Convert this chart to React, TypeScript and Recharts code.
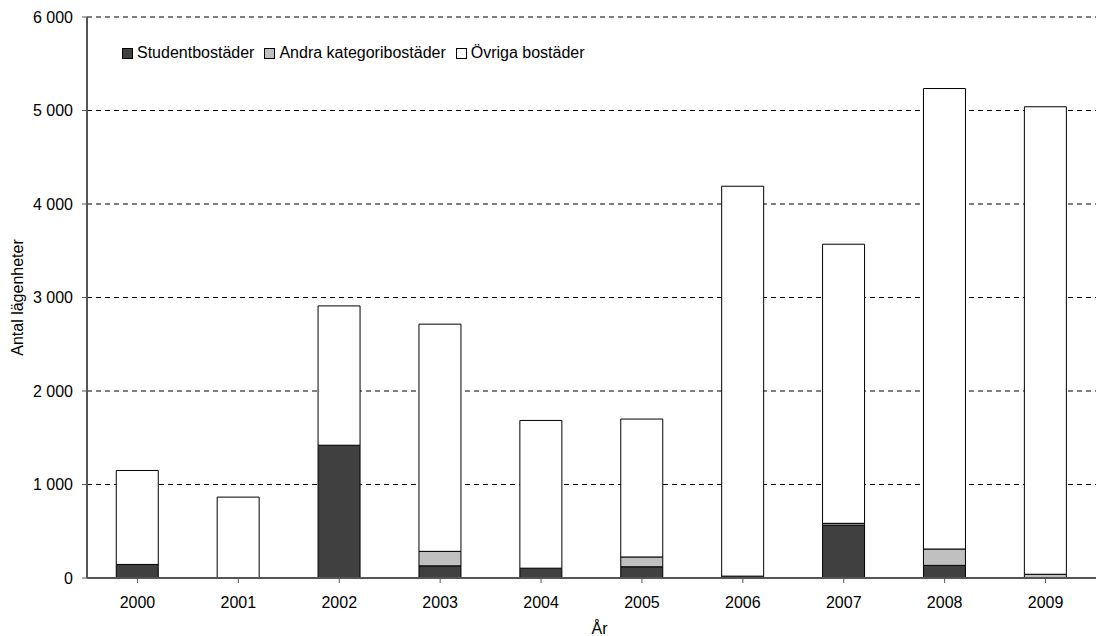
import React from "react"
import { BarChart, Bar, XAxis, YAxis, CartesianGrid } from "recharts"

const years = ["2000", "2001", "2002", "2003", "2004", "2005", "2006", "2007", "2008", "2009"]
const student = [145, 0, 1420, 130, 105, 120, 20, 565, 135, 0]
const andra = [0, 5, 0, 155, 0, 105, 0, 20, 175, 40]
const ovriga = [1005, 860, 1490, 2430, 1580, 1475, 4170, 2985, 4925, 5000]
const yTicks = [0, 1000, 2000, 3000, 4000, 5000, 6000]

const series = [
  { key: "student", name: "Studentbostäder", color: "#404040" },
  { key: "andra", name: "Andra kategoribostäder", color: "#c0c0c0" },
  { key: "ovriga", name: "Övriga bostäder", color: "#ffffff" },
]

const data = years.map((year, i) => ({
  year,
  student: student[i],
  andra: andra[i],
  ovriga: ovriga[i],
}))

const fmt = (v: number) => String(v).replace(/\B(?=(\d{3})+(?!\d))/g, " ")

const font = "'Liberation Sans', Arial, sans-serif"
const txt = { fill: "#000", fontSize: 16, fontFamily: font }

// legend drawn as plain html over the plot, like the original
function LegendBox() {
  return (
    <div
      style={{
        position: "absolute",
        left: 122,
        top: 44,
        display: "flex",
        gap: 10,
        fontFamily: font,
        fontSize: 16,
        lineHeight: "18px",
        color: "#000",
      }}
    >
      {series.map((s) => (
        <div key={s.key} style={{ display: "flex", alignItems: "center" }}>
          <span
            style={{
              display: "inline-block",
              width: 9,
              height: 9,
              background: s.color,
              border: "1px solid #000",
              marginRight: 4,
            }}
          />
          {s.name}
        </div>
      ))}
    </div>
  )
}

export default function App() {
  return (
    <div style={{ position: "absolute", left: 0, top: 0, width: 1104, height: 636, background: "#fff" }}>
      <BarChart
        width={1104}
        height={636}
        data={data}
        margin={{ top: 17, right: 8, bottom: 28, left: 0 }}
        barCategoryGap="29%"
      >
        <CartesianGrid vertical={false} stroke="#000" strokeDasharray="5 4" />
        <XAxis
          dataKey="year"
          height={30}
          tick={txt}
          tickLine={{ stroke: "#555" }}
          axisLine={{ stroke: "#555", strokeWidth: 2 }}
          tickSize={5}
          tickMargin={14}
          label={{ value: "År", position: "insideBottom", offset: -26, dx: 8, ...txt }}
        />
        <YAxis
          width={87}
          domain={[0, 6000]}
          ticks={yTicks}
          interval={0}
          tickFormatter={fmt}
          tick={txt}
          tickLine={{ stroke: "#555" }}
          axisLine={{ stroke: "#555", strokeWidth: 2 }}
          tickSize={5}
          tickMargin={9}
          label={{
            value: "Antal lägenheter",
            angle: -90,
            position: "insideLeft",
            offset: 17,
            style: { textAnchor: "middle", ...txt },
          }}
        />
        {series.map((s) => (
          <Bar
            key={s.key}
            dataKey={s.key}
            name={s.name}
            stackId="a"
            fill={s.color}
            stroke="#000"
            strokeWidth={1}
            isAnimationActive={false}
          />
        ))}
      </BarChart>
      <LegendBox />
    </div>
  )
}
